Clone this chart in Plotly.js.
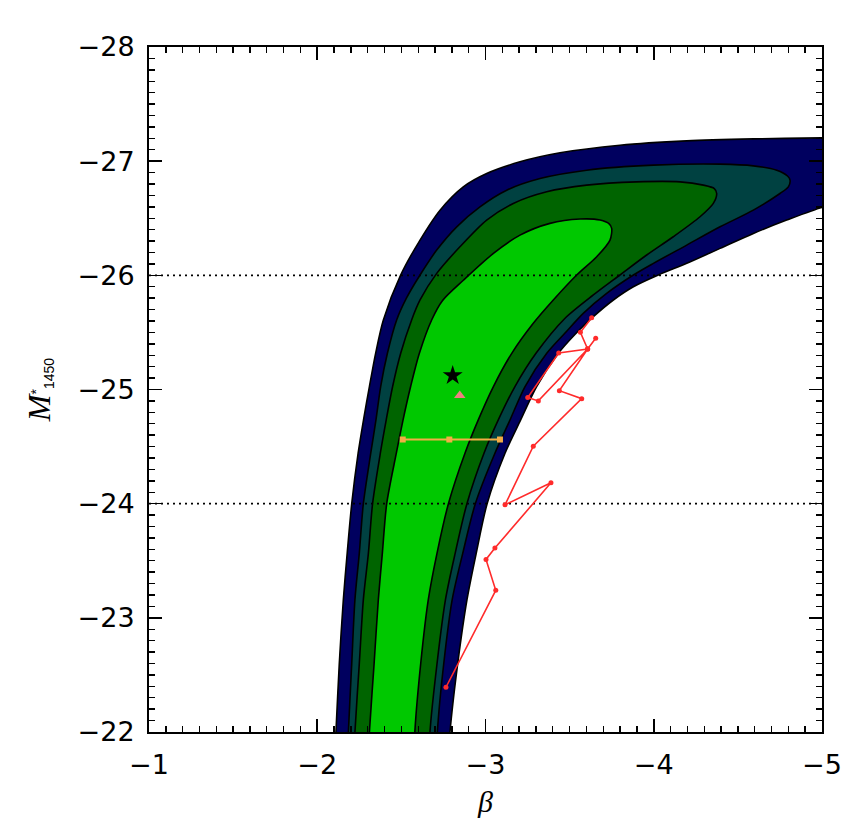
<!DOCTYPE html>
<html>
<head>
<meta charset="utf-8">
<script src="https://cdn.plot.ly/plotly-3.0.1.min.js"></script>
<style>
  html, body { margin: 0; padding: 0; background: #fff; }
  #chart { width: 866px; height: 827px; }
</style>
</head>
<body>
<div id="chart"></div>
<script>
// confidence contours in the (beta, M*_1450) plane
// each one is a closed outline: left edge going up, then right edge coming down
var navyX = [-2.107, -2.111, -2.131, -2.155, -2.178, -2.205, -2.243, -2.275, -2.310, -2.347, -2.393, -2.495,
  -2.611, -2.730, -2.868, -3.007, -3.205, -3.443, -3.799, -4.196, -4.592, -4.998, -5.1,
  -5.1, -5.0, -4.790, -4.592, -4.394, -4.196, -4.027, -3.879, -3.760, -3.641, -3.530, -3.433,
  -3.304, -3.209, -3.116, -3.010, -2.945, -2.890, -2.835, -2.789, -2.785];
var navyY = [-21.9, -22.0, -22.6, -23.159, -23.567, -24.0, -24.442, -24.734, -25.026, -25.317, -25.609, -26.0,
  -26.309, -26.571, -26.775, -26.892, -26.994, -27.073, -27.140, -27.178, -27.195, -27.204, -27.205,
  -26.62, -26.595, -26.484, -26.367, -26.236, -26.105, -26.003, -25.900, -25.784, -25.638, -25.48, -25.317,
  -25.026, -24.734, -24.442, -24.002, -23.567, -23.159, -22.6, -22.0, -21.9];

var tealX = [-2.183, -2.185, -2.205, -2.224, -2.250, -2.274, -2.318, -2.349, -2.377, -2.417, -2.472, -2.530,
  -2.611, -2.710, -2.829, -2.967, -3.126, -3.324, -3.601, -3.998, -4.394, -4.592, -4.731, -4.795, -4.810,
  -4.800, -4.750, -4.592, -4.394, -4.196, -3.998, -3.879, -3.720, -3.581, -3.470, -3.364, -3.235, -3.146,
  -3.056, -2.940, -2.865, -2.802, -2.752, -2.714, -2.712];
var tealY = [-21.9, -22.0, -22.6, -23.159, -23.567, -24.0, -24.442, -24.734, -25.026, -25.317, -25.609, -25.8,
  -26.003, -26.221, -26.425, -26.600, -26.746, -26.848, -26.921, -26.965, -26.974, -26.959, -26.921, -26.87, -26.834,
  -26.775, -26.717, -26.571, -26.425, -26.265, -26.105, -26.003, -25.842, -25.667, -25.49, -25.317, -25.026, -24.734,
  -24.442, -24.002, -23.567, -23.159, -22.6, -22.0, -21.9];

var dgreenX = [-2.222, -2.224, -2.250, -2.274, -2.304, -2.329, -2.375, -2.410, -2.448, -2.496, -2.561, -2.611,
  -2.710, -2.848, -3.007, -3.165, -3.364, -3.601, -3.898, -4.156, -4.295, -4.360, -4.374, -4.354, -4.275,
  -4.116, -3.958, -3.799, -3.641, -3.470, -3.300, -3.175, -3.076, -2.991, -2.890, -2.820, -2.762, -2.712,
  -2.670, -2.668];
var dgreenY = [-21.9, -22.0, -22.6, -23.159, -23.567, -24.002, -24.442, -24.734, -25.026, -25.317, -25.609, -25.784,
  -26.017, -26.250, -26.484, -26.630, -26.732, -26.790, -26.819, -26.819, -26.790, -26.76, -26.717, -26.630, -26.513,
  -26.338, -26.178, -26.003, -25.828, -25.62, -25.317, -25.026, -24.734, -24.442, -24.002, -23.567, -23.159, -22.6,
  -22.0, -21.9];

var lgreenX = [-2.308, -2.310, -2.338, -2.363, -2.387, -2.413, -2.470, -2.510, -2.555, -2.607, -2.680, -2.745,
  -2.870, -3.047, -3.205, -3.383, -3.562, -3.681, -3.735, -3.750, -3.740, -3.661, -3.542, -3.403, -3.284,
  -3.156, -3.047, -2.957, -2.878, -2.780, -2.712, -2.660, -2.615, -2.580, -2.578];
var lgreenY = [-21.9, -22.0, -22.6, -23.159, -23.567, -24.002, -24.442, -24.734, -25.026, -25.317, -25.609, -25.78,
  -25.959, -26.192, -26.352, -26.455, -26.493, -26.484, -26.45, -26.411, -26.309, -26.163, -26.003, -25.784, -25.58,
  -25.317, -25.026, -24.734, -24.442, -24.002, -23.567, -23.159, -22.6, -22.0, -21.9];

// red track of estimates
var redX = [-2.765, -3.061, -3.003, -3.056, -3.389, -3.116, -3.284, -3.572, -3.439, -3.607,
  -3.314, -3.251, -3.435, -3.607, -3.655, -3.607, -3.564, -3.631];
var redY = [-22.392, -23.241, -23.512, -23.611, -24.183, -23.990, -24.504, -24.920, -24.990, -25.355,
  -24.900, -24.929, -25.320, -25.355, -25.449, -25.355, -25.501, -25.629];

// orange range with its midpoint
var orangeX = [-2.508, -2.785, -3.086];
var orangeY = [-24.562, -24.562, -24.562];

// best fit (star) and another estimate (triangle)
var starX = [-2.805], starY = [-25.122];
var triX = [-2.847], triY = [-24.947];

// dotted reference levels
var refLevels = [-26, -24];

var xTicks = [-1, -2, -3, -4, -5];
var yTicks = [-22, -23, -24, -25, -26, -27, -28];

function band(x, y, color) {
  return {
    x: x, y: y, type: 'scatter', mode: 'lines', fill: 'toself', fillcolor: color,
    line: {color: 'black', width: 1.6, shape: 'spline', smoothing: 0.8},
    hoverinfo: 'skip', showlegend: false
  };
}

var data = [
  band(navyX, navyY, '#00005f'),
  band(tealX, tealY, '#004141'),
  band(dgreenX, dgreenY, '#006400'),
  band(lgreenX, lgreenY, '#00c800')
];

refLevels.forEach(function (lev) {
  data.push({
    x: [-1, -5], y: [lev, lev], type: 'scatter', mode: 'lines',
    line: {color: 'black', width: 1.6, dash: '2px,4px'}, showlegend: false, hoverinfo: 'skip'
  });
});

data.push({
  x: redX, y: redY, type: 'scatter', mode: 'lines+markers',
  line: {color: '#ff2b2b', width: 1.6},
  marker: {color: '#ff2b2b', size: 5},
  showlegend: false
});
data.push({
  x: orangeX, y: orangeY, type: 'scatter', mode: 'lines+markers',
  line: {color: '#f2ad45', width: 1.8},
  marker: {color: '#f2ad45', size: 6, symbol: 'square'},
  showlegend: false
});
data.push({
  x: starX, y: starY, type: 'scatter', mode: 'markers',
  marker: {color: 'black', size: 15, symbol: 'star'}, showlegend: false
});
data.push({
  x: triX, y: triY, type: 'scatter', mode: 'markers',
  marker: {color: '#f08080', size: 10, symbol: 'triangle-up'}, showlegend: false
});

var tickFont = {family: 'DejaVu Sans, sans-serif', size: 27, color: 'black'};

var layout = {
  width: 866,
  height: 827,
  margin: {l: 149, r: 44, t: 47, b: 95},
  paper_bgcolor: 'white',
  plot_bgcolor: 'white',
  showlegend: false,
  xaxis: {
    range: [-1, -5],
    autorange: false,
    tickvals: xTicks,
    ticks: 'inside',
    ticklen: 13,
    tickwidth: 1.6,
    tickcolor: 'black',
    minor: {dtick: 0.1, tick0: 0, ticks: 'inside', ticklen: 6, tickwidth: 1.4, tickcolor: 'black'},
    showline: true,
    linecolor: 'black',
    linewidth: 2,
    mirror: 'ticks',
    showgrid: false,
    zeroline: false,
    tickfont: tickFont,
    ticklabelstandoff: 8,
    title: {
      text: '<i>β</i>',
      font: {family: 'Liberation Serif, serif', size: 30, color: 'black'},
      standoff: 12
    }
  },
  yaxis: {
    range: [-22, -28],
    autorange: false,
    tickvals: yTicks,
    ticks: 'inside',
    ticklen: 13,
    tickwidth: 1.6,
    tickcolor: 'black',
    minor: {dtick: 0.1, tick0: 0, ticks: 'inside', ticklen: 6, tickwidth: 1.4, tickcolor: 'black'},
    showline: true,
    linecolor: 'black',
    linewidth: 2,
    mirror: 'ticks',
    showgrid: false,
    zeroline: false,
    tickfont: tickFont,
    ticklabelstandoff: 7,
    title: {
      text: '<span style="font-family:Liberation Serif;font-size:32px"><i>M</i></span><sup>*</sup><sub><span style="font-size:14px">1450</span></sub>',
      font: {family: 'Liberation Sans, Arial, sans-serif', size: 20, color: 'black'},
      standoff: 22
    }
  }
};

Plotly.newPlot('chart', data, layout, {displayModeBar: false, staticPlot: true});
</script>
</body>
</html>
